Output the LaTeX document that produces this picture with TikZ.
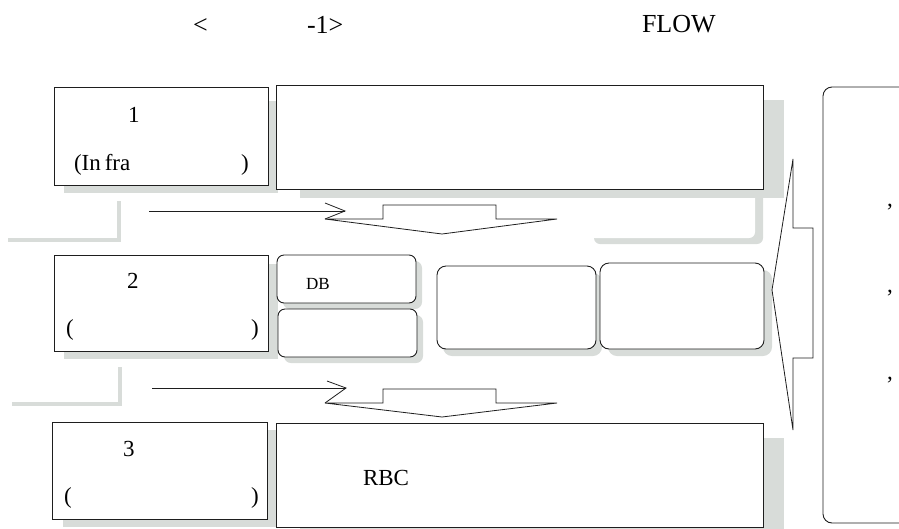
\documentclass[tikz,border=0pt]{standalone}
\usepackage{fontspec}
\setmainfont{Liberation Serif}
\definecolor{shd}{RGB}{216,220,217}
\definecolor{ink}{RGB}{30,30,30}
\begin{document}
\begin{tikzpicture}[x=1pt,y=-1pt,
  shadow/.style={fill=shd,draw=none},
  box/.style={fill=white,draw=ink,line width=0.9pt,anchor=north west,inner sep=0pt,outer sep=0pt},
  rbox/.style={box,rounded corners=7pt},
  ln/.style={draw=ink,line width=0.8pt},
  greyl/.style={draw=shd,line width=4.5pt},
  txt/.style={anchor=base west,inner sep=0pt,outer sep=0pt,font=\fontsize{23}{27}\selectfont},
  ttl/.style={anchor=base west,inner sep=0pt,outer sep=0pt,font=\fontsize{26}{30}\selectfont},
  small/.style={anchor=base west,inner sep=0pt,outer sep=0pt,font=\fontsize{17}{20}\selectfont}]
\useasboundingbox (0,0) rectangle (899,528);
\clip (0,0) rectangle (899,528);

% title
\node[ttl] (t1) at (193,33) {<};
\node[ttl] (t2) at (307,33) {-1>};
\node[ttl] (t3) at (642,32) {FLOW};

% hidden rounded box (only its shadow shows)
\fill[shd,rounded corners=6pt] (594,150) rectangle (763,244);
\fill[white,rounded corners=6pt] (586,140) rectangle (755,238);

% shadows
\fill[shd] (64,101) rectangle (278,193);
\fill[shd] (300,100) rectangle (784,198);
\fill[shd] (64,264) rectangle (278,359);
\fill[shd,rounded corners=7pt] (283,261) rectangle (422,309);
\fill[shd,rounded corners=7pt] (284,315) rectangle (423,363);
\fill[shd,rounded corners=9pt] (443,273) rectangle (602,356);
\fill[shd,rounded corners=9pt] (608,270) rectangle (772,356);
\fill[shd] (63,430) rectangle (278,527);
\fill[shd] (300,438) rectangle (784,540);

% grey L marks
\draw[greyl] (119,201) -- (119,240) -- (8,240);
\draw[greyl] (120,367) -- (120,404) -- (12,404);

% boxes
\node[box,minimum width=214pt,minimum height=98pt] (b1l) at (54,87) {};
\node[box,minimum width=487pt,minimum height=104pt] (b1w) at (276,85) {};
\node[box,minimum width=214pt,minimum height=96pt] (b2l) at (54,255) {};
\node[rbox,minimum width=139pt,minimum height=48pt] (db) at (277,255) {};
\node[rbox,minimum width=139pt,minimum height=48pt] (b2s) at (278,309) {};
\node[rbox,rounded corners=9pt,minimum width=159pt,minimum height=83pt] (b2m) at (437,266) {};
\node[rbox,rounded corners=9pt,minimum width=164pt,minimum height=86pt] (b2r) at (600,263) {};
\node[box,minimum width=215pt,minimum height=97pt] (b3l) at (52,422) {};
\node[box,minimum width=487pt,minimum height=104pt] (b3w) at (276,423) {};
\node[rbox,rounded corners=9pt,minimum width=110pt,minimum height=436pt] (rt) at (823,87) {};

% arrow row 1-2
\coordinate (a1s) at (149,211);
\coordinate (a1e) at (345,211);
\draw[ln] (a1s) -- (a1e);
\draw[ln] (325,203) -- (a1e) -- (325,219);
\draw[ln,fill=white] (325,219) -- (383,219) -- (383,205) -- (496,205) -- (496,219) -- (557,219) -- (442,234) -- cycle;

% arrow row 2-3
\coordinate (a2s) at (152,388);
\coordinate (a2e) at (346,388);
\draw[ln] (a2s) -- (a2e);
\draw[ln] (327,381) -- (a2e) -- (325,403);
\draw[ln,fill=white] (325,403) -- (383,403) -- (383,389) -- (496,389) -- (496,403) -- (557,403) -- (442,417) -- cycle;

% big left arrow
\draw[ln,fill=white] (772,290) -- (793,159) -- (793,228) -- (813,228) -- (813,358) -- (793,358) -- (793,430) -- cycle;

% texts
\node[txt] (n1) at (128,122) {1};
\node[txt] (n1a) at (74,170) {(In\kern4pt fra};
\node[txt] (n1b) at (241,170) {)};
\node[txt] (n2) at (127,288) {2};
\node[txt] (n2a) at (66,335) {(};
\node[txt] (n2b) at (251,335) {)};
\node[small] (ndb) at (306,289) {DB};
\node[txt] (n3) at (123,456) {3};
\node[txt] (n3a) at (64,503) {(};
\node[txt] (n3b) at (251,503) {)};
\node[txt] (rbc) at (363,485) {RBC};
\node[txt] (c1) at (887,206) {,};
\node[txt] (c2) at (887,292) {,};
\node[txt] (c3) at (887,379) {,};
\end{tikzpicture}
\end{document}
